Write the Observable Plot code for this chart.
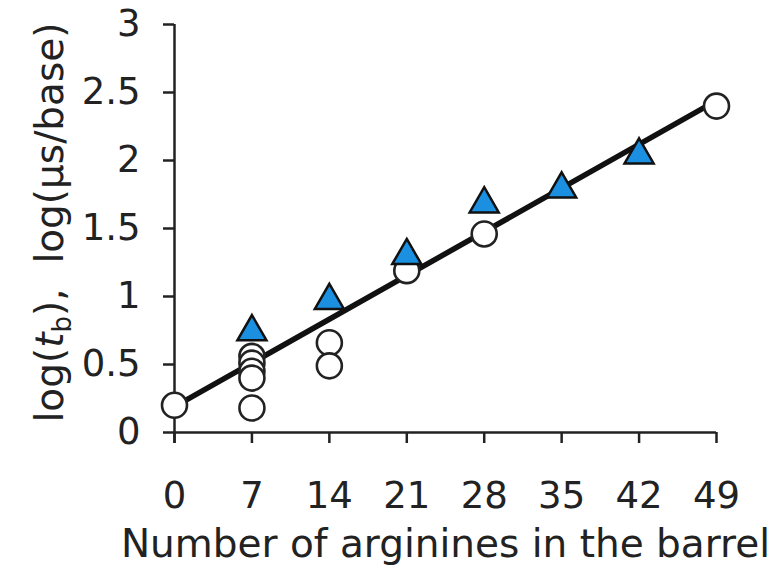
<!DOCTYPE html>
<html><head><meta charset="utf-8">
<script src="https://cdn.jsdelivr.net/npm/d3@7"></script>
<script src="https://cdn.jsdelivr.net/npm/@observablehq/plot@0.6"></script>
<style>body{margin:0;background:#fff;}</style>
</head><body><div id="chart"></div>
<script>
// Open circles
const circleX = [0, 7, 7, 7, 7, 7, 14, 14, 21, 28, 49];
const circleY = [0.20, 0.56, 0.51, 0.45, 0.40, 0.18, 0.66, 0.49, 1.19, 1.46, 2.40];
// Blue triangles
const triX = [7, 14, 21, 28, 35, 42];
const triY = [0.74, 0.97, 1.30, 1.68, 1.79, 2.04];
// Fitted line endpoints
const fitX = [0, 49];
const fitY = [0.19, 2.44];
// Ticks and labels
const xTicks = [0, 7, 14, 21, 28, 35, 42, 49];
const yTicks = [0, 0.5, 1, 1.5, 2, 2.5, 3];
const xLabel = "Number of arginines in the barrel";
const yLabel = "log(t_b),\u00a0\u00a0log(\u00b5s/base)";

const circles = circleX.map((x, i) => ({x, y: circleY[i]}));
const tris = triX.map((x, i) => ({x, y: triY[i]}));
const fit = fitX.map((x, i) => ({x, y: fitY[i]}));

const chart = Plot.plot({
  width: 773, height: 576,
  marginLeft: 174, marginRight: 57, marginTop: 24, marginBottom: 144,
  style: {fontFamily: "'DejaVu Sans', Verdana, sans-serif", background: "#fff", color: "#222"},
  x: {domain: [0, 49]},
  y: {domain: [0, 3]},
  marks: [
    Plot.ruleY([0], {stroke: "#222", strokeWidth: 2.5}),
    Plot.ruleX([0], {stroke: "#222", strokeWidth: 2.5, insetBottom: -11}),
    Plot.axisX({ticks: xTicks, tickSize: 11, tickPadding: 38, fontSize: 37, strokeWidth: 2.5, label: null, tickFormat: d => String(d)}),
    Plot.axisY({ticks: yTicks, tickSize: 11, tickPadding: 23, fontSize: 37, strokeWidth: 2.5, label: null, tickFormat: d => String(d)}),
    Plot.line(fit, {x: "x", y: "y", stroke: "#111", strokeWidth: 5.5}),
    Plot.dot(circles, {x: "x", y: "y", r: 12.5, fill: "white", stroke: "#222", strokeWidth: 2.6}),
    Plot.dot(tris, {x: "x", y: "y", r: 10.8, symbol: "triangle", fill: "#1B8FE0", stroke: "#111", strokeWidth: 2.5}),
    Plot.text([xLabel], {frameAnchor: "bottom", dy: 124, fontSize: 39, fill: "#222"}),
    Plot.text([yLabel], {frameAnchor: "left", dx: -124, dy: -6, rotate: -90, fontSize: 39, fill: "#222"})
  ]
});
document.getElementById("chart").appendChild(chart);

// Rich text for y label: italic t with subscript b
d3.select(chart).selectAll("text").each(function() {
  const el = d3.select(this);
  if (el.text() === yLabel) {
    el.text(null).attr("text-anchor", "middle");
    el.append("tspan").text("log(");
    el.append("tspan").attr("font-style", "italic").text("t");
    el.append("tspan").attr("font-size", 26).attr("dy", 8).text("b");
    el.append("tspan").attr("dy", -8).text(")," + "\u00a0\u00a0log(\u00b5s/base)");
  }
});
</script>
</body></html>
